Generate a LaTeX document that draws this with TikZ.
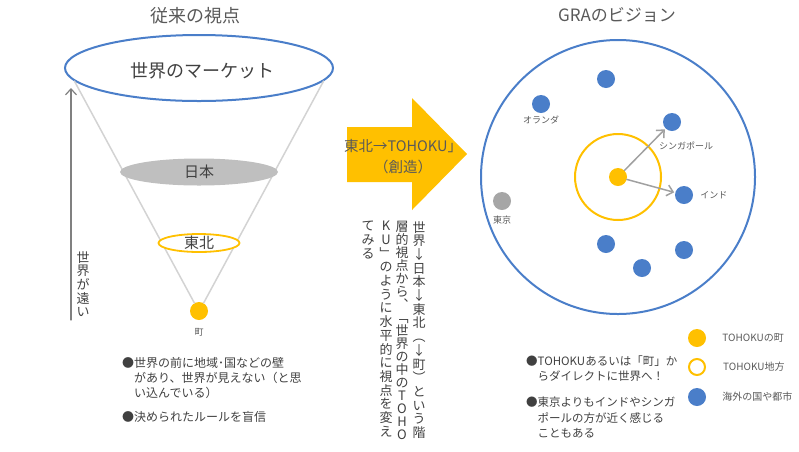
\documentclass[tikz,border=0pt]{standalone}
\usepackage{fontspec}
\setmainfont{Noto Sans CJK JP}
\usetikzlibrary{arrows.meta,positioning,shapes.geometric}

\definecolor{gold}{HTML}{FFC000}
\definecolor{cityblue}{HTML}{4A7EC9}
\definecolor{txt}{HTML}{404040}
\definecolor{soft}{HTML}{595959}
\definecolor{cone}{HTML}{D3D3D3}
\definecolor{japangray}{HTML}{BFBFBF}
\definecolor{tokyogray}{HTML}{A6A6A6}
\definecolor{arrowgray}{HTML}{A0A0A0}

\begin{document}
\begin{tikzpicture}[
    x = 1pt, y = -1pt, % one unit = one pixel, y downwards
    > = {Straight Barb[length=6pt,width=11pt]}, % open arrow head
    line cap = round
    ]

    \tikzset{
    every node/.style = {text = txt, inner sep = 0pt},
    disc/.style = {circle, minimum size = 18pt},
    city/.style = {disc, fill = cityblue},
    citylbl/.style = {font = \fontsize{9}{11}\selectfont, text = soft},
    keylbl/.style = {font = \fontsize{10}{12}\selectfont, text = soft},
    tate/.style = {align = center, anchor = north, font = \fontsize{13}{13.7}\selectfont},
    note/.style = {align = left, anchor = north west, font = \fontsize{12}{15}\selectfont}
    }
    \useasboundingbox (0,0) rectangle (799,451);

    % left: old view
    \node[font=\fontsize{18}{20}\selectfont, text=soft] (oldview) at (195,16) {従来の視点};
    \node[ellipse, draw=cityblue, line width=2pt, minimum width=268pt, minimum height=66pt,
          label={[font=\fontsize{18}{20}\selectfont, xshift=3pt, yshift=-3pt]center:世界のマーケット}] (market) at (199,68) {};
    \node[disc, fill=gold] (town) at (199,311) {};
    \node[citylbl, below=8pt of town] (townlbl) {町};
    \draw[cone, line width=1.5pt] (market.186) -- (town.120);
    \draw[cone, line width=1.5pt] (market.354) -- (town.60);
    \node[ellipse, fill=japangray, minimum width=158pt, minimum height=27pt,
          label={[font=\fontsize{15}{17}\selectfont]center:日本}] (japan) at (199,172) {};
    \node[ellipse, draw=gold, line width=1.8pt, fill=white, minimum width=81pt, minimum height=18pt,
          label={[font=\fontsize{15}{17}\selectfont]center:東北}] (tohoku) at (199,243) {};

    \coordinate (farlo) at (71,320);
    \coordinate (farhi) at (71,88);
    \draw[->, draw=gray, line width=1.2pt] (farlo) -- (farhi);
    \node[tate] (far) at (83,251) {世\\界\\が\\遠\\い};

    \node[note] (noteA) at (122,357) {●世界の前に地域･国などの壁\\\phantom{●}があり、世界が見えない（と思\\\phantom{●}い込んでいる）};
    \node[note] (noteB) at (122,411) {●決められたルールを盲信};

    % middle: the shift
    \fill[gold] (347,127) -- (412,127) -- (412,98) -- (467,154) -- (412,210) -- (412,182) -- (347,182) -- cycle;
    \node[align=center, font=\fontsize{14.5}{21}\selectfont, text=soft] (shift) at (403,157) {東北→TOHOKU」\\（創造）};

    \node[tate] (col1) at (419,221) {世\\界\\↓\\日\\本\\↓\\東\\北\\︵\\↓\\町\\︶\\と\\い\\う\\階};
    \node[tate, font=\fontsize{13}{13}\selectfont] (col2) at (402,221) {層\\的\\視\\点\\か\\ら\\︑\\﹁\\世\\界\\の\\中\\の\\T\\O\\H\\O};
    \node[tate] (col3) at (386,221) {K\\U\\﹂\\の\\よ\\う\\に\\水\\平\\的\\に\\視\\点\\を\\変\\え};
    \node[tate] (col4) at (368,221) {て\\み\\る};

    % right: GRA vision
    \node[font=\fontsize{17}{20}\selectfont, text=soft] (gra) at (617,15) {GRAのビジョン};
    \node[circle, draw=cityblue, line width=2pt, minimum size=274pt] (world) at (618,177) {};
    \node[circle, draw=gold, line width=2pt, minimum size=86pt] (region) at (618,177) {};
    \node[disc, fill=gold] (home) at (618,177) {};

    \node[city] (c1) at (606,79) {};
    \node[city] (holland) at (541,104) {};
    \node[citylbl, below=2pt of holland] (hollandlbl) {オランダ};
    \node[city] (sing) at (672,122) {};
    \node[citylbl] (singlbl) at (686,146) {シンガポール};
    \node[city] (india) at (684,195) {};
    \node[citylbl, right=7pt of india] (indialbl) {インド};
    \node[disc, fill=tokyogray] (tokyo) at (502,201) {};
    \node[citylbl, below=6pt of tokyo] (tokyolbl) {東京};
    \node[city] (c2) at (606,244) {};
    \node[city] (c3) at (642,268) {};
    \node[city] (c4) at (684,250) {};

    \draw[->, draw=arrowgray, line width=1.5pt, shorten >=1pt] (home) -- (sing);
    \draw[->, draw=arrowgray, line width=1.5pt, shorten >=1pt] (home) -- (india);

    % legend
    \node[disc, fill=gold] (keytown) at (697,338) {};
    \node[disc, draw=gold, line width=2pt, fill=white, minimum size=16pt] (keyregion) at (697,367) {};
    \node[city] (keycity) at (697,397) {};
    \node[keylbl, right=16pt of keytown] (keytownlbl) {TOHOKUの町};
    \node[keylbl, right=17pt of keyregion] (keyregionlbl) {TOHOKU地方};
    \node[keylbl, right=16pt of keycity] (keycitylbl) {海外の国や都市};

    \node[note, font=\fontsize{11.5}{14.5}\selectfont] (noteC) at (526,356) {●TOHOKUあるいは「町」か\\\phantom{●}らダイレクトに世界へ！};
    \node[note, font=\fontsize{11.5}{15.5}\selectfont] (noteD) at (526,397) {●東京よりもインドやシンガ\\\phantom{●}ポールの方が近く感じる\\\phantom{●}こともある};
\end{tikzpicture}
\end{document}
